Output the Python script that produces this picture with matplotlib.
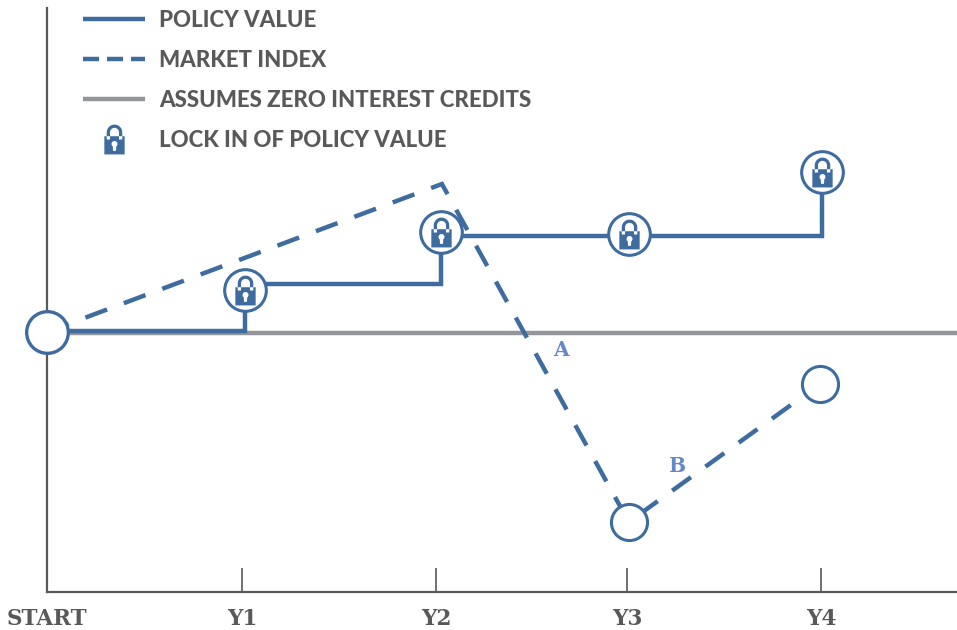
## policy value vs market index chart

import numpy as np
import matplotlib
matplotlib.use('Agg')
import matplotlib.pyplot as plt
from matplotlib.lines import Line2D
from matplotlib.path import Path

tick_pos = [0, 1.008, 2.01, 2.997, 4.0]
tick_labels = ['START', 'Y1', 'Y2', 'Y3', 'Y4']

policy_x = [0, 1.023, 1.023, 2.036, 2.036, 4.005, 4.005]
policy_y = [100.25, 100.25, 112, 112, 124, 124, 140]

market_x = [0, 2.041, 3.007, 3.995]
market_y = [100, 137, 52.5, 87]

zero_x = [0, 4.703]
zero_y = [99.75, 99.75]

lock_x = [1.023, 2.036, 3.007, 4.005]
lock_y = [110.5, 125, 124.5, 140]

open_x = [3.007, 3.995]
open_y = [52.5, 87]

BLUE = '#3f6c9f'
GREY = '#939598'
DARK = '#58595b'
LETTER = '#6488c8'


def lock_path():
    # body, keyhole and shackle as one compound path
    t = np.linspace(0, np.pi, 24)
    outer = np.column_stack([0.52 * np.cos(t), 0.48 + 0.52 * np.sin(t)])
    inner = np.column_stack([0.3 * np.cos(t[::-1]), 0.48 + 0.3 * np.sin(t[::-1])])
    shackle = np.vstack([outer, [[-0.52, 0.0], [-0.3, 0.0]], inner, [[0.3, 0.0], [0.52, 0.0], outer[0]]])
    body = np.array([[-0.68, 0.22], [0.68, 0.22], [0.68, -1.0], [-0.68, -1.0], [-0.68, 0.22]])
    a = np.linspace(-0.3 * np.pi, 1.3 * np.pi, 20)
    hole = np.column_stack([0.2 * np.cos(a), -0.3 + 0.2 * np.sin(a)])
    hole = np.vstack([[[0.1, -0.76]], hole, [[-0.1, -0.76], [0.1, -0.76]]])
    verts, codes = [], []
    for part in (shackle, body, hole):
        verts.extend(part.tolist())
        codes.extend([Path.MOVETO] + [Path.LINETO] * (len(part) - 2) + [Path.CLOSEPOLY])
    return Path(verts, codes)


LOCK = lock_path()

plt.rcParams['font.family'] = ['Lato', 'DejaVu Sans']
fig = plt.figure(figsize=(9.57, 6.30), dpi=100)
ax = fig.add_axes([47 / 957, 1 - 592 / 630, 910 / 957, 584 / 630])
ax.set_xlim(0, 4.703)
ax.set_ylim(35, 181)

ax.plot(zero_x, zero_y, color=GREY, lw=3.2, zorder=1, solid_capstyle='butt')
ax.plot(market_x, market_y, color=BLUE, lw=3.2, dashes=(5.2, 4.03), zorder=2,
        dash_capstyle='butt', dash_joinstyle='miter')
ax.plot(policy_x, policy_y, color=BLUE, lw=3.2, zorder=3, solid_joinstyle='miter')

# open circles
ax.plot([0], [100], 'o', ms=30, mfc='white', mec=BLUE, mew=2.4, zorder=4, clip_on=False)
ax.plot(open_x, open_y, 'o', ms=26, mfc='white', mec=BLUE, mew=2.2, zorder=4)

# locked circles
ax.plot(lock_x, lock_y, 'o', ms=30, mfc='white', mec=BLUE, mew=2.2, zorder=4)
ax.plot(lock_x, lock_y, linestyle='none', marker=LOCK, ms=21.5, mfc=BLUE, mec='none', zorder=5)

ax.text(2.658, 95.5, 'A', color=LETTER, fontsize=14.5, fontweight='bold',
        family='DejaVu Serif', ha='center', va='center')
ax.text(3.26, 66.5, 'B', color=LETTER, fontsize=14.5, fontweight='bold',
        family='DejaVu Serif', ha='center', va='center')

for s in ['top', 'right']:
    ax.spines[s].set_visible(False)
for s in ['left', 'bottom']:
    ax.spines[s].set_color(DARK)
    ax.spines[s].set_linewidth(1.6)

ax.set_yticks([])
ax.set_xticks(tick_pos)
ax.set_xticklabels(tick_labels, family='DejaVu Serif', fontweight='bold', fontsize=15.5, color=DARK)
ax.tick_params(axis='x', direction='in', length=17, width=1.2, color=DARK, pad=11.5)

handles = [
    Line2D([], [], color=BLUE, lw=3.2, solid_capstyle='butt'),
    Line2D([], [], color=BLUE, lw=3.2, dashes=(3.6, 1.8), dash_capstyle='butt'),
    Line2D([], [], color=GREY, lw=3.2, solid_capstyle='butt'),
    Line2D([], [], linestyle='none', marker=LOCK, ms=21.5, color=BLUE, mec='none'),
]
labels = ['POLICY VALUE', 'MARKET INDEX', 'ASSUMES ZERO INTEREST CREDITS', 'LOCK IN OF POLICY VALUE']
leg = ax.legend(handles, labels, loc='upper left', bbox_to_anchor=(36 / 910, 0.997), frameon=False,
                handlelength=2.8, handletextpad=0.6, labelspacing=0.86, borderpad=0, borderaxespad=0,
                prop={'family': 'Lato', 'weight': 'black', 'size': 16.05})
for t in leg.get_texts():
    t.set_color(DARK)

plt.savefig('out.png', dpi=100)
